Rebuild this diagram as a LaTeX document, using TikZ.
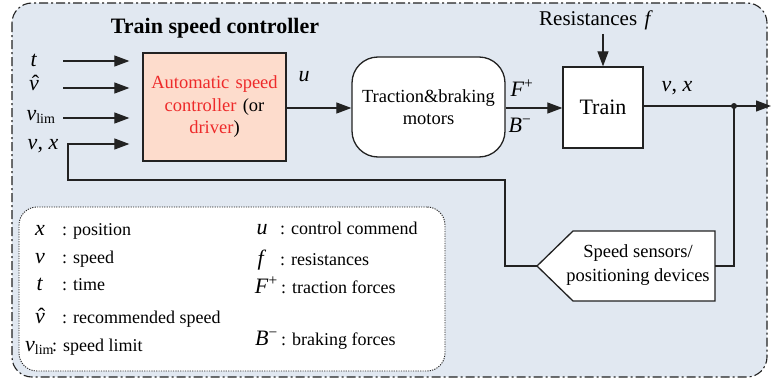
\documentclass[tikz,border=0pt]{standalone}
\usepackage{fontspec}
\setmainfont{Liberation Serif}
\usetikzlibrary{arrows.meta,calc}

\definecolor{panel}{HTML}{E1E8F1}
\definecolor{peach}{HTML}{FDDCCC}
\definecolor{ctrlred}{HTML}{EE2A2A}
\definecolor{ink}{HTML}{222222}

% font size helper
\newcommand\sz[1]{\fontsize{#1}{#1}\selectfont}
% italic v with a circumflex
\newcommand\hv{\ooalign{\textit{v}\cr\hidewidth\kern0.14em ˆ\hidewidth\cr}}
\newcommand\sym[1]{\textit{#1}}

\tikzset{
  outerbox/.style={draw=ink, line width=1.1pt, fill=panel, rounded corners=20pt,
    dash pattern=on 9pt off 3pt on 2pt off 3pt},
  legendbox/.style={draw=ink, line width=0.9pt, fill=white, rounded corners=18pt,
    dash pattern=on 1.2pt off 1.2pt, minimum width=426pt, minimum height=164pt},
  block/.style={draw=ink, line width=1.3pt, fill=white, align=center, inner sep=0pt},
  body/.style={font=\sz{18.5}, align=center},
  lbl/.style={font=\sz{22}, inner sep=0pt},
  ltext/.style={font=\sz{18}, inner sep=0pt, anchor=base west},
  lsym/.style={font=\sz{22}, inner sep=0pt, anchor=base},
  flow/.style={draw=ink, line width=1.2pt, -{Triangle[length=15pt,width=11pt]}},
  wire/.style={draw=ink, line width=1.2pt},
}

\begin{document}
\begin{tikzpicture}[x=1pt,y=-1pt]
\useasboundingbox (0,0) rectangle (771,380);

% enclosing controller region
\draw[outerbox] (12,3) rectangle (767,377);

\node[font=\bfseries\sz{22}, inner sep=0pt] (title) at (215,28) {Train speed controller};

% main blocks
\node[block, fill=peach, minimum width=143pt, minimum height=108pt,
      font=\sz{18.5}, text width=135pt, execute at begin node={\baselineskip=22.5pt}]
  (ctrl) at (214.5,107)
  {\textcolor{ctrlred}{Automatic speed}\\\textcolor{ctrlred}{controller} (or\\\textcolor{ctrlred}{driver})};

\node[block, rounded corners=26pt, minimum width=153pt, minimum height=100pt,
      font=\sz{18.5}, text width=150pt, execute at begin node={\baselineskip=21.5pt}]
  (trac) at (428.5,107) {Traction\&braking\\motors};

\node[block, minimum width=80pt, minimum height=81pt, font=\sz{22}]
  (train) at (603,107.5) {Train};

\node[font=\sz{21}, inner sep=0pt] (res) at (596,20) {Resistances\hspace{0.35em}\sym{f}};

% speed sensing block (pentagon pointing left)
\coordinate (sNW) at (573,231);
\coordinate (sNE) at (715,231);
\coordinate (sSE) at (715,301);
\coordinate (sSW) at (573,301);
\coordinate (sTip) at (537,266);
\coordinate (sIn) at (715,266);
\filldraw[draw=ink, line width=1.3pt, fill=white] (sNW) -- (sNE) -- (sSE) -- (sSW) -- (sTip) -- cycle;
\node[body, inner sep=0pt, execute at begin node={\baselineskip=23.5pt}]
  (sens) at (638,265) {Speed sensors/\\positioning devices};

% input signals
\node[lbl] (lt) at (34,60) {\sym{t}};
\node[lbl] (lvh) at (34,85) {\hv};
\node[lbl] (lvl) at (41,117) {\sym{v}\textsubscript{\sz{14}lim}};
\node[lbl] (lvx) at (43,146) {\sym{v}, \sym{x}};

\coordinate (i1) at (63,61);
\coordinate (i2) at (63,88);
\coordinate (i3) at (63,118);
\draw[flow, shorten >=13pt] (i1) -- (i1 -| ctrl.west);
\draw[flow, shorten >=13pt] (i2) -- (i2 -| ctrl.west);
\draw[flow, shorten >=13pt] (i3) -- (i3 -| ctrl.west);

% forward path
\node[lbl] (lu) at (304,77) {\sym{u}};
\draw[flow] (ctrl.east |- 0,108) -- (trac.west |- 0,108);

\node[lbl] (lF) at (522,88) {\sym{F}\textsuperscript{+}};
\node[lbl] (lB) at (520,125) {\sym{B}\textsuperscript{−}};
\draw[flow] (trac.east |- 0,108) -- (train.west |- 0,108);

\draw[flow] (res.south -| train.north) ++(0,4) -- (train.north);

\node[lbl] (lvx2) at (677,88) {\sym{v}, \sym{x}};
\coordinate (split) at (734,106);
\coordinate (out) at (771,106);
\draw[flow] (train.east |- split) -- (out);
\fill[ink] (split) circle (3pt);

% feedback loop
\draw[wire] (split) |- (sIn);
\coordinate (fb1) at (505,266);
\coordinate (fb2) at (68,180);
\coordinate (fb3) at (68,144);
\draw[flow, shorten >=13pt] (sTip) -- (fb1) |- (fb2) -- (fb3) -- (fb3 -| ctrl.west);

% legend
\node[legendbox] (legend) at (232,289) {};

\node[lsym] at (40,235) {\sym{x}};
\node[ltext] at (62,235) {: position};
\node[lsym] at (40,263) {\sym{v}};
\node[ltext] at (62,263) {: speed};
\node[lsym] at (40,290) {\sym{t}};
\node[ltext] at (62,290) {: time};
\node[lsym] at (40,323) {\hv};
\node[ltext] at (62,323) {: recommended speed};
\node[lsym, anchor=base west] at (25,351) {\sym{v}\textsubscript{\sz{14}lim}};
\node[ltext] at (52,351) {: speed limit};

\node[lsym] at (262,234) {\sym{u}};
\node[ltext] at (280,234) {: control commend};
\node[lsym] at (262,265) {\sym{f}};
\node[ltext] at (280,265) {: resistances};
\node[lsym, anchor=base east] at (278,293) {\sym{F}\textsuperscript{+}};
\node[ltext] at (281,293) {: traction forces};
\node[lsym, anchor=base east] at (278,345) {\sym{B}\textsuperscript{−}};
\node[ltext] at (281,345) {: braking forces};
\end{tikzpicture}
\end{document}
